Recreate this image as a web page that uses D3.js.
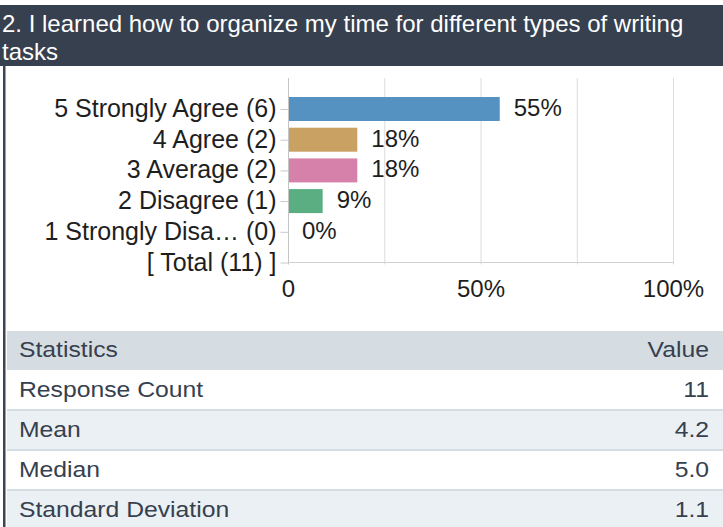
<!DOCTYPE html>
<html>
<head>
<meta charset="utf-8">
<script src="https://cdn.jsdelivr.net/npm/d3@7"></script>
<style>
  html, body { margin: 0; padding: 0; background: #fff; }
  svg { display: block; }
  text { font-family: "Liberation Sans", Arial, Helvetica, sans-serif; }
</style>
</head>
<body>
<svg id="chart" width="723" height="527"></svg>
<script>
// Question title (wrapped over two lines)
const titleLines = ["2. I learned how to organize my time for different types of writing", "tasks"];

// Answer options, response counts and percentages
const optionNames = ["5 Strongly Agree", "4 Agree", "3 Average", "2 Disagree", "1 Strongly Disa\u2026"];
const optionCounts = [6, 2, 2, 1, 0];
const optionPercents = [55, 18, 18, 9, 0];
const totalCount = 11;
const barColors = ["#5592c2", "#c9a263", "#d681aa", "#5bae82"];

// Percentage axis ticks
const xTickValues = [0, 50, 100];
const xGridValues = [0, 25, 50, 75, 100];

// Summary statistics table
const statNames = ["Response Count", "Mean", "Median", "Standard Deviation"];
const statValues = ["11", "4.2", "5.0", "1.1"];

const svg = d3.select("#chart");
const W = 723, H = 527;

svg.append("rect").attr("width", W).attr("height", H).attr("fill", "#fff");

// Title bar
svg.append("rect").attr("x", 0).attr("y", 5).attr("width", W).attr("height", 61).attr("fill", "#36404e");
svg.append("g").selectAll("text").data(titleLines).join("text")
  .attr("x", 2).attr("y", (d, i) => 32 + i * 28)
  .attr("fill", "#fff").attr("font-size", 24).text(d => d);

// Panel left border
svg.append("rect").attr("x", 3).attr("y", 66).attr("width", 2.5).attr("height", H - 66).attr("fill", "#3b4553");

// Category labels including the total row
const rowLabels = optionNames.map((n, i) => `${n} (${optionCounts[i]})`).concat([`[ Total (${totalCount}) ]`]);

const x = d3.scaleLinear().domain([0, 100]).range([288, 673]);
const y = d3.scalePoint().domain(rowLabels).range([109, 262.5]);
const gridTop = 78, baseY = 262.5, barH = 24;

const plot = svg.append("g");

// Vertical gridlines
plot.append("g").selectAll("line").data(xGridValues).join("line")
  .attr("x1", d => x(d) + 0.5).attr("x2", d => x(d) + 0.5)
  .attr("y1", gridTop).attr("y2", baseY + 2)
  .attr("stroke", d => d === 0 ? "#c4c4c4" : "#dcdcdc").attr("stroke-width", 1);

// Baseline
plot.append("line").attr("x1", x(0)).attr("x2", x(100) + 1)
  .attr("y1", baseY).attr("y2", baseY).attr("stroke", "#d0d0d0");

// Left category axis
const yAxis = d3.axisLeft(y).tickSize(8).tickPadding(4);
const gy = plot.append("g").attr("transform", `translate(${x(0) + 0.5},0)`).call(yAxis);
gy.select(".domain").remove();
gy.selectAll(".tick line").attr("stroke", "#c8c8c8");
gy.selectAll(".tick text").attr("font-size", 25).attr("fill", "#1e1e1e")
  .attr("font-family", "'Liberation Sans', Arial, sans-serif").attr("dy", "0.3em");

// Bottom percentage axis
const xAxis = d3.axisBottom(x).tickValues(xTickValues).tickSize(0).tickPadding(0)
  .tickFormat(d => d === 0 ? "0" : d + "%");
const gx = plot.append("g").attr("transform", `translate(0,${baseY})`).call(xAxis);
gx.select(".domain").remove();
gx.selectAll(".tick text").attr("font-size", 24).attr("fill", "#1e1e1e")
  .attr("font-family", "'Liberation Sans', Arial, sans-serif").attr("dy", null).attr("y", 34);

// Bars
const rows = optionNames.map((n, i) => ({ label: rowLabels[i], pct: optionPercents[i], color: barColors[i] }));
plot.append("g").selectAll("rect").data(rows.filter(r => r.pct > 0)).join("rect")
  .attr("x", x(0) + 1).attr("y", d => y(d.label) - barH / 2)
  .attr("width", d => x(d.pct) - x(0) - 1).attr("height", barH)
  .attr("fill", d => d.color);

// Value labels
plot.append("g").selectAll("text").data(rows).join("text")
  .attr("x", d => x(d.pct) + 14).attr("y", d => y(d.label) + 7)
  .attr("font-size", 24).attr("fill", "#1e1e1e").text(d => d.pct + "%");

// Statistics table (text drawn slightly widened)
const tableX = 7, headerY = 331, headerH = 39, rowH = 40;
const textStretch = 1.15, tableFont = 21.5, textColor = "#36404e";
const table = svg.append("g");

function cell(g, tx, ty, str, anchor) {
  g.append("text")
    .attr("transform", `translate(${tx},${ty}) scale(${textStretch},1)`)
    .attr("font-size", tableFont).attr("fill", textColor)
    .attr("text-anchor", anchor).text(str);
}

table.append("rect").attr("x", tableX).attr("y", headerY).attr("width", W - tableX).attr("height", headerH).attr("fill", "#d6dde2");
cell(table, 19, headerY + 26, "Statistics", "start");
cell(table, 709, headerY + 26, "Value", "end");

const statRows = table.append("g").selectAll("g").data(statNames).join("g")
  .attr("transform", (d, i) => `translate(0,${headerY + headerH + i * rowH})`);
statRows.append("rect").attr("x", tableX).attr("y", 0).attr("width", W - tableX).attr("height", rowH)
  .attr("fill", (d, i) => i % 2 ? "#ebf0f4" : "#fff");
statRows.filter((d, i) => i > 0).append("rect").attr("x", tableX).attr("y", -1).attr("width", W - tableX).attr("height", 2)
  .attr("fill", "#d5dde3");
statRows.each(function (d, i) {
  const g = d3.select(this);
  cell(g, 19, 27, d, "start");
  cell(g, 709, 27, statValues[i], "end");
});
</script>
</body>
</html>
